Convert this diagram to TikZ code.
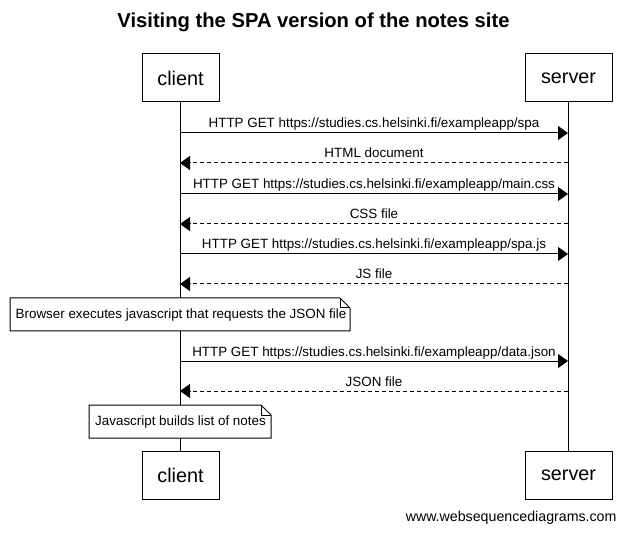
\documentclass[tikz,border=0pt]{standalone}
\usepackage{fontspec}
\setmainfont{Liberation Sans}
\usetikzlibrary{arrows.meta}
\begin{document}
\begin{tikzpicture}[x=1pt,y=-1pt,line width=1pt,
  actor/.style={draw,fill=white,minimum width=77pt,minimum height=48pt,inner sep=0pt,font=\fontsize{19.8}{22}\selectfont},
  msg/.style={-{Triangle[length=10pt,width=14pt]}},
  reply/.style={msg,dash pattern=on 4pt off 3pt},
  lbl/.style={font=\fontsize{13.4}{15}\selectfont,inner sep=0pt,anchor=base,yshift=5pt},
  notebox/.style={inner sep=0pt,font=\fontsize{13.4}{15}\selectfont}]
\useasboundingbox (0,0) rectangle (626,534);
\fill[white] (0,0) rectangle (626,534);
\node[font=\bfseries\fontsize{20.2}{24}\selectfont] (title) at (313.5,22) {Visiting the SPA version of the notes site};
% participants
\node[actor,minimum width=77pt] (ct) at (180.5,78) {client};
\node[actor,minimum width=87pt] (st) at (568.5,78) {server};
\node[actor,minimum width=77pt] (cb) at (180.5,475.5) {client};
\node[actor,minimum width=87pt] (sb) at (568.5,475.5) {server};
\draw (ct.south) -- (cb.north);
\draw (st.south) -- (sb.north);
% message coordinates
\foreach \n/\y in {1/133,2/163,3/194,4/224,5/254,6/284,7/361,8/391}{
  \coordinate (c\n) at (180,\y);
  \coordinate (s\n) at (568,\y);
}
\draw[msg] (c1) -- node[lbl] {HTTP GET https://studies.cs.helsinki.fi/exampleapp/spa} (s1);
\draw[reply] (s2) -- node[lbl] {HTML document} (c2);
\draw[msg] (c3) -- node[lbl] {HTTP GET https://studies.cs.helsinki.fi/exampleapp/main.css} (s3);
\draw[reply] (s4) -- node[lbl] {CSS file} (c4);
\draw[msg] (c5) -- node[lbl] {HTTP GET https://studies.cs.helsinki.fi/exampleapp/spa.js} (s5);
\draw[reply] (s6) -- node[lbl] {JS file} (c6);
\draw[msg] (c7) -- node[lbl] {HTTP GET https://studies.cs.helsinki.fi/exampleapp/data.json} (s7);
\draw[reply] (s8) -- node[lbl] {JSON file} (c8);
% notes
\draw[fill=white] (10,298) -- (340,298) -- (350,308) -- (350,331) -- (10,331) -- cycle;
\draw (340,298) -- (340,308) -- (350,308);
\node[notebox] (n1) at (181,315) {Browser executes javascript that requests the JSON file};
\draw[fill=white] (89,405) -- (261,405) -- (271,415) -- (271,438) -- (89,438) -- cycle;
\draw (261,405) -- (261,415) -- (271,415);
\node[notebox] (n2) at (180.5,422) {Javascript builds list of notes};
\node[font=\fontsize{14.2}{16}\selectfont,anchor=east,inner sep=0pt] (wm) at (617,518) {www.websequencediagrams.com};
\end{tikzpicture}
\end{document}
